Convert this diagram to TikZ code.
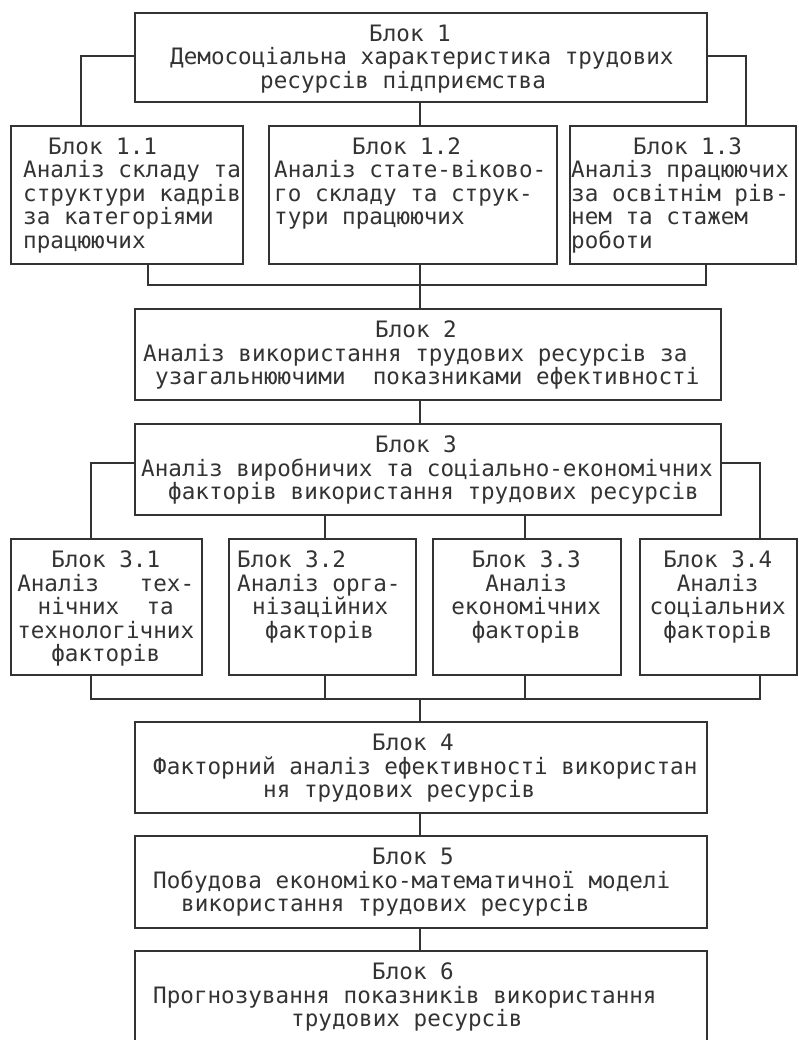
\documentclass[tikz,border=0pt]{standalone}
\usepackage{fontspec}
\newfontfamily\tw{DejaVu Sans Mono}
\definecolor{ink}{HTML}{333333}
\newcommand\blocktext[3][\raggedright]{\parbox[t]{#2}{#1\tw\fontsize{22.6}{23.5}\selectfont #3}}
\begin{document}
\begin{tikzpicture}[x=1pt,y=-1pt,
  box/.style={draw=ink, line width=1.6pt, inner sep=0pt, anchor=north west},
  txt/.style={inner sep=0pt, anchor=base west, text=ink},
  conn/.style={draw=ink, line width=1.6pt}]
\useasboundingbox[fill=white] (0,0) rectangle (799,1040);
% boxes
\node[box, minimum width=572pt, minimum height=89pt] (b1) at (134,12) {};
\node[box, minimum width=232pt, minimum height=138pt] (b11) at (10,125) {};
\node[box, minimum width=288pt, minimum height=138pt] (b12) at (268,125) {};
\node[box, minimum width=226pt, minimum height=138pt] (b13) at (569,125) {};
\node[box, minimum width=586pt, minimum height=91pt] (b2) at (134,308) {};
\node[box, minimum width=586pt, minimum height=91pt] (b3) at (134,423) {};
\node[box, minimum width=191pt, minimum height=136pt] (b31) at (10,538) {};
\node[box, minimum width=187pt, minimum height=136pt] (b32) at (228,538) {};
\node[box, minimum width=188pt, minimum height=136pt] (b33) at (432,538) {};
\node[box, minimum width=157pt, minimum height=136pt] (b34) at (639,538) {};
\node[box, minimum width=572pt, minimum height=91pt] (b4) at (134,721) {};
\node[box, minimum width=572pt, minimum height=92pt] (b5) at (134,835) {};
\node[box, minimum width=572pt, minimum height=120pt] (b6) at (134,950) {};
% texts
\node[txt] (t1) at (170,41.5) {\blocktext{600pt}{\hspace*{199pt}Блок 1\\
Демосоціальна характеристика трудових\\
\hspace*{90pt}ресурсів підприємства}};
\node[txt] (t11) at (23,154.5) {\blocktext{300pt}{\hspace*{25pt}Блок 1.1\\
Аналіз складу та\\ структури кадрів\\ за категоріями\\ працюючих}};
\node[txt] (t12) at (274,154.5) {\blocktext{300pt}{\hspace*{78pt}Блок 1.2\\
Аналіз стате-віково-\\ го складу та струк-\\ тури працюючих}};
\node[txt] (t13) at (571,154.5) {\blocktext{300pt}{\hspace*{62pt}Блок 1.3\\
Аналіз працюючих\\ за освітнім рів-\\ нем та стажем\\ роботи}};
\node[txt] (t2) at (143,337.5) {\blocktext{620pt}{\hspace*{232pt}Блок 2\\
Аналіз використання трудових ресурсів за\\
\hspace*{12pt}узагальнюючими~~показниками ефективності}};
\node[txt] (t3) at (141,452.5) {\blocktext{620pt}{\hspace*{234pt}Блок 3\\
Аналіз виробничих та соціально-економічних\\
\hspace*{27pt}факторів використання трудових ресурсів}};
\node[txt] (t31) at (10,567.5) {\blocktext[\centering]{191pt}{Блок 3.1\\
Аналіз~~~тех-\\ нічних~~та\\ технологічних\\ факторів}};
\node[txt] (t32) at (237,567.5) {\blocktext{300pt}{Блок 3.2\\
Аналіз орга-\\ \hspace*{15pt}нізаційних\\ \hspace*{28pt}факторів}};
\node[txt] (t33) at (432,567.5) {\blocktext[\centering]{188pt}{Блок 3.3\\
Аналіз\\ економічних\\ факторів}};
\node[txt] (t34) at (639,567.5) {\blocktext[\centering]{157pt}{Блок 3.4\\
Аналіз\\ соціальних\\ факторів}};
\node[txt] (t4) at (153,750.5) {\blocktext{620pt}{\hspace*{219pt}Блок 4\\
Факторний аналіз ефективності використан\\
\hspace*{110pt}ня трудових ресурсів}};
\node[txt] (t5) at (153,864.5) {\blocktext{620pt}{\hspace*{219pt}Блок 5\\
Побудова економіко-математичної моделі\\
\hspace*{28pt}використання трудових ресурсів}};
\node[txt] (t6) at (153,979.5) {\blocktext{620pt}{\hspace*{219pt}Блок 6\\
Прогнозування показників використання\\
\hspace*{138pt}трудових ресурсів}};
% junction coordinates
\coordinate (j1l) at (81,56);
\coordinate (j1r) at (746,56);
\coordinate (j2l) at (148,285);
\coordinate (j2r) at (706,285);
\coordinate (j2c) at (420,285);
\coordinate (j3l) at (91,463);
\coordinate (j3r) at (760,463);
\coordinate (c32) at (325,600);
\coordinate (c33) at (525,600);
\coordinate (j4l) at (91,699);
\coordinate (j4r) at (760,699);
\coordinate (j4c) at (420,699);
% connectors
\draw[conn] (j1l -| b1.west) -- (j1l) -- (j1l |- b11.north);
\draw[conn] (j1r -| b1.east) -- (j1r) -- (j1r |- b13.north);
\draw[conn] (j2c |- b1.south) -- (j2c |- b12.north);
\draw[conn] (j2l |- b11.south) -- (j2l) -- (j2r) -- (j2r |- b13.south);
\draw[conn] (j2c |- b12.south) -- (j2c |- b2.north);
\draw[conn] (j2c |- b2.south) -- (j2c |- b3.north);
\draw[conn] (j3l -| b3.west) -- (j3l) -- (j3l |- b31.north);
\draw[conn] (j3r -| b3.east) -- (j3r) -- (j3r |- b34.north);
\draw[conn] (c32 |- b3.south) -- (c32 |- b32.north);
\draw[conn] (c33 |- b3.south) -- (c33 |- b33.north);
\draw[conn] (j4l |- b31.south) -- (j4l) -- (j4r) -- (j4r |- b34.south);
\draw[conn] (c32 |- b32.south) -- (c32 |- j4c);
\draw[conn] (c33 |- b33.south) -- (c33 |- j4c);
\draw[conn] (j4c) -- (j4c |- b4.north);
\draw[conn] (j4c |- b4.south) -- (j4c |- b5.north);
\draw[conn] (j4c |- b5.south) -- (j4c |- b6.north);
\end{tikzpicture}
\end{document}
